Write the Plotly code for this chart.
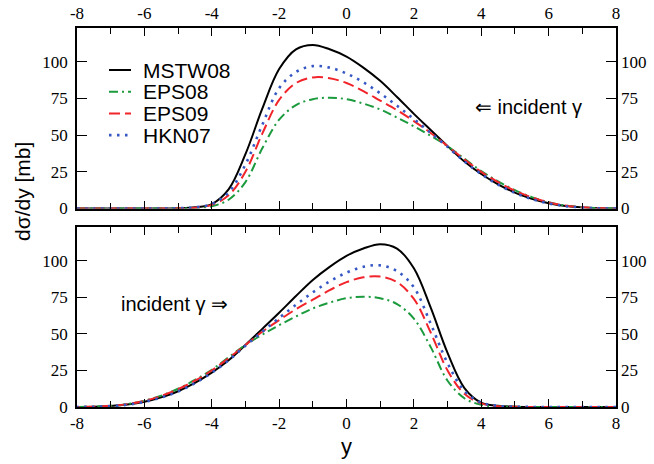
import plotly.graph_objects as go

# ---- data (upper panel: photon incident from the right) ----
rapidity = [-8, -7.5, -7, -6.5, -6, -5.5, -5, -4.5, -4, -3.5, -3, -2.5, -2, -1.5, -1, -0.5,
            0, 0.5, 1, 1.5, 2, 2.5, 3, 3.5, 4, 4.5, 5, 5.5, 6, 6.5, 7, 7.5, 8]

mstw08 = [0, 0, 0, 0, 0, 0.05, 0.2, 0.8, 3, 13, 37, 68, 95, 108.5, 111.5, 108.5,
          103.5, 96, 87, 76, 64.5, 53.5, 42.5, 32, 23.5, 16.5, 10.8, 6.7, 3.6, 1.7, 0.7, 0.2, 0.05]
eps08 = [0, 0, 0, 0, 0, 0.03, 0.1, 0.4, 1.5, 6, 18, 41, 60.5, 70.5, 74.5, 75.5,
         74.5, 71.5, 67.5, 62, 56, 49.5, 42.5, 34, 25.5, 18.5, 12.5, 7.8, 4.3, 2, 0.8, 0.25, 0.05]
eps09 = [0, 0, 0, 0, 0, 0.04, 0.15, 0.6, 2.5, 9, 25, 51, 74, 85.5, 89.3, 88.8,
         85.5, 80, 73.5, 67, 59.5, 51.5, 42.5, 33.5, 25, 18, 12.2, 7.6, 4.2, 2, 0.8, 0.25, 0.05]
hkn07 = [0, 0, 0, 0, 0, 0.05, 0.2, 0.8, 3, 11, 30, 57, 82, 93, 97, 96,
         92, 86, 78.5, 70, 61, 51.5, 42, 32, 23.5, 16.3, 10.6, 6.5, 3.5, 1.6, 0.6, 0.2, 0.05]

series_names = ["MSTW08", "EPS08", "EPS09", "HKN07"]
series_values = [mstw08, eps08, eps09, hkn07]
series_colors = ["#000000", "#1c9a3e", "#f0242a", "#3557c4"]
series_dash = ["solid", "9px,4px,2px,4px", "11px,5px", "2.5px,5.5px"]
series_width = [2, 2, 2, 2.6]

x_ticks = [-8, -6, -4, -2, 0, 2, 4, 6, 8]
x_ticktext = ["-8", "-6", "-4", "-2", "0", "2", "4", "6", "8"]
y_ticks = [0, 25, 50, 75, 100]
y_ticktext = ["0", "25", "50", "75", "100"]

label_top = "\u21d0 incident \u03b3"
label_bottom = "incident \u03b3 \u21d2"

# lower panel: photon incident from the left (mirror image in rapidity)
rapidity_lower = [-v for v in rapidity]

serif = "Liberation Serif"
sans = "Liberation Sans"
tickfont = dict(family=serif, size=17, color="black")

fig = go.Figure()
for name, vals, col, dash, w in zip(series_names, series_values, series_colors, series_dash, series_width):
    ln = dict(color=col, dash=dash, width=w, shape="spline", smoothing=1.0)
    fig.add_trace(go.Scatter(x=rapidity, y=vals, mode="lines", name=name, line=ln,
                             xaxis="x2", yaxis="y2", showlegend=False))
    fig.add_trace(go.Scatter(x=rapidity_lower, y=vals, mode="lines", name=name, line=ln,
                             xaxis="x", yaxis="y", showlegend=False))

# empty traces so that the right-hand label axes are drawn
fig.add_trace(go.Scatter(x=[None], y=[None], xaxis="x", yaxis="y3", showlegend=False, hoverinfo="skip"))
fig.add_trace(go.Scatter(x=[None], y=[None], xaxis="x2", yaxis="y4", showlegend=False, hoverinfo="skip"))

xcommon = dict(range=[-8, 8], tickmode="array", tickvals=x_ticks, ticktext=x_ticktext,
               ticks="inside", ticklen=8, tickwidth=1.3, tickfont=tickfont,
               tickcolor="black", showline=True, linecolor="black", linewidth=1.5,
               mirror="ticks", showgrid=False, zeroline=False, automargin=False,
               minor=dict(dtick=1, tick0=-8, ticks="inside", ticklen=6, tickwidth=1.3,
                          tickcolor="black", showgrid=False))
ycommon = dict(range=[0, 123], tickmode="array", tickvals=y_ticks, ticktext=y_ticktext,
               ticks="inside", ticklen=10, tickwidth=1.3, tickfont=tickfont,
               tickcolor="black", showline=True, linecolor="black", linewidth=1.5,
               mirror="ticks", showgrid=False, zeroline=False, automargin=False,
               ticklabelstandoff=4)
yright = dict(range=[0, 123], tickmode="array", tickvals=y_ticks, ticktext=y_ticktext,
              side="right", ticks="", tickfont=tickfont,
              showline=False, showgrid=False, zeroline=False, automargin=False,
              ticklabelstandoff=4)

top_dom = [0.5237, 1.0]
bot_dom = [0.0, 0.4739]

fig.update_layout(
    template="none",
    width=654, height=464,
    margin=dict(l=77, r=38, t=28, b=57, autoexpand=False),
    paper_bgcolor="white", plot_bgcolor="white",
    font=dict(family=serif, size=17, color="black"),
    showlegend=False,
    xaxis=dict(**xcommon, anchor="y", side="bottom"),
    yaxis=dict(**ycommon, domain=bot_dom, anchor="x"),
    xaxis2=dict(**xcommon, anchor="y2", side="top"),
    yaxis2=dict(**ycommon, domain=top_dom, anchor="x2"),
    yaxis3=dict(**yright, overlaying="y", anchor="x"),
    yaxis4=dict(**yright, overlaying="y2", anchor="x2"),
)

# legend drawn by hand to match the compact spacing of the original
leg_y0 = 70
for i, (name, col, dash, w) in enumerate(zip(series_names, series_colors, series_dash, series_width)):
    yy = leg_y0 + i * 21.7
    py = 1 - (yy - 28) / 379
    fig.add_shape(type="line", xref="paper", yref="paper",
                  x0=(109 - 77) / 539, x1=(131 - 77) / 539, y0=py, y1=py,
                  line=dict(color=col, dash=dash, width=w))
    fig.add_annotation(text=name, xref="paper", yref="paper", x=(141 - 77) / 539, y=py,
                       xanchor="left", yanchor="middle", showarrow=False,
                       font=dict(family=sans, size=21, color="black"))

fig.add_annotation(text=label_top, xref="x2", yref="y2", x=5.39, y=69.3, showarrow=False,
                   xanchor="center", yanchor="middle", font=dict(family=sans, size=20, color="black"))
fig.add_annotation(text=label_bottom, xref="x", yref="y", x=-5.12, y=70.8, showarrow=False,
                   xanchor="center", yanchor="middle", font=dict(family=sans, size=20, color="black"))

fig.add_annotation(text="d\u03c3/dy [mb]", xref="paper", yref="paper", x=(22 - 77) / 539, y=(407 - 192) / 379,
                   textangle=-90, showarrow=False, xanchor="center", yanchor="middle",
                   font=dict(family=sans, size=21, color="black"))
fig.add_annotation(text="y", xref="paper", yref="paper", x=0.5, y=(407 - 446) / 379,
                   showarrow=False, xanchor="center", yanchor="middle",
                   font=dict(family=sans, size=22, color="black"))

fig.write_html("out.html")
